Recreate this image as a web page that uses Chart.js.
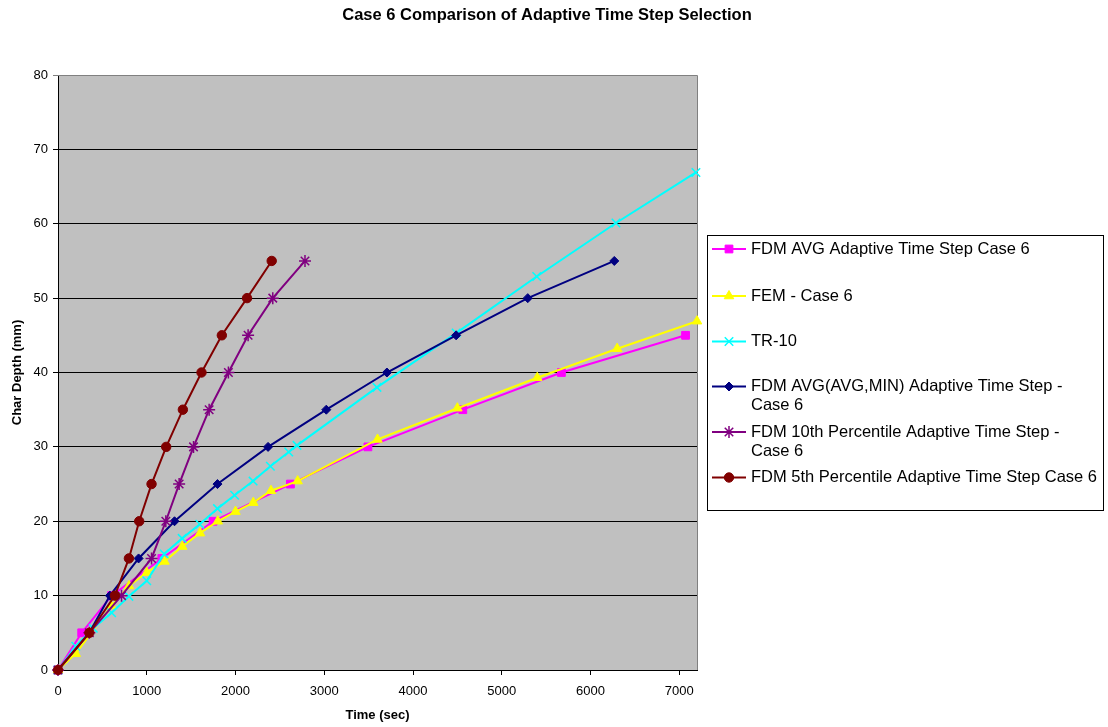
<!DOCTYPE html>
<html>
<head>
<meta charset="utf-8">
<title>Case 6 Comparison of Adaptive Time Step Selection</title>
<script src="https://cdn.jsdelivr.net/npm/chart.js@4.4.1/dist/chart.umd.min.js"></script>
<style>
  html, body { margin: 0; padding: 0; background: #fff; }
  #wrap { width: 1108px; height: 727px; }
</style>
</head>
<body>
<div id="wrap"><canvas id="chart" width="1108" height="727"></canvas></div>
<script>
// Char depth (mm) against time (sec) for each time step method
const fdmAvgTime = [0, 267, 604, 1170, 1748, 2619, 3492, 4561, 5672, 7071];
const fdmAvgDepth = [0, 5, 10, 15, 20, 25, 30, 35, 40, 45];

const femTime = [0, 200, 600, 800, 1000, 1200, 1400, 1600, 1800, 2000, 2200, 2400, 2700, 3600, 4500, 5400, 6300, 7200];
const femDepth = [0, 2.2, 8.6, 11.3, 13.1, 14.6, 16.6, 18.4, 20.0, 21.3, 22.5, 24.1, 25.4, 31.0, 35.2, 39.3, 43.2, 46.9];

const tr10Time = [0, 200, 397, 604, 799, 1000, 1197, 1399, 1598, 1797, 1990, 2198, 2393, 2600, 2693, 3594, 4486, 5394, 6287, 7188];
const tr10Depth = [0, 3.2, 5.6, 7.7, 9.9, 12.0, 15.6, 17.7, 19.6, 21.7, 23.5, 25.4, 27.4, 29.3, 30.2, 38.0, 45.3, 52.9, 60.1, 66.9];

const fdmAvgMinTime = [0, 353, 585, 908, 1313, 1797, 2367, 3023, 3706, 4486, 5293, 6268];
const fdmAvgMinDepth = [0, 5, 10, 15, 20, 25, 30, 35, 40, 45, 50, 55];

const fdm10thTime = [0, 353, 716, 1054, 1215, 1365, 1527, 1703, 1920, 2142, 2420, 2783];
const fdm10thDepth = [0, 5, 10, 15, 20, 25, 30, 35, 40, 45, 50, 55];

const fdm5thTime = [0, 353, 641, 799, 915, 1054, 1219, 1407, 1617, 1846, 2130, 2408];
const fdm5thDepth = [0, 5, 10, 15, 20, 25, 30, 35, 40, 45, 50, 55];

const seriesNames = [
  'FDM AVG Adaptive Time Step Case 6',
  'FEM - Case 6',
  'TR-10',
  'FDM AVG(AVG,MIN) Adaptive Time Step - Case 6',
  'FDM 10th Percentile Adaptive Time Step - Case 6',
  'FDM 5th Percentile Adaptive Time Step Case 6'
];
// how the legend breaks the long names
const legendLines = [
  ['FDM AVG Adaptive Time Step Case 6'],
  ['FEM - Case 6'],
  ['TR-10'],
  ['FDM AVG(AVG,MIN) Adaptive Time Step -', 'Case 6'],
  ['FDM 10th Percentile Adaptive Time Step -', 'Case 6'],
  ['FDM 5th Percentile Adaptive Time Step Case 6']
];

const chartTitle = 'Case 6 Comparison of Adaptive Time Step Selection';
const xTicks = [0, 1000, 2000, 3000, 4000, 5000, 6000, 7000];

const FONT = "'Liberation Sans', Arial, sans-serif";

function pts(t, d) {
  return t.map((v, i) => ({ x: v, y: d[i] }));
}

function series(i, t, d, color, style, radius) {
  return {
    label: seriesNames[i],
    data: pts(t, d),
    showLine: true,
    borderColor: color,
    backgroundColor: color,
    borderWidth: 2,
    pointStyle: style,
    pointRadius: radius,
    pointHoverRadius: radius,
    pointBorderColor: color,
    pointBackgroundColor: color,
    pointBorderWidth: (style === 'crossRot' || style === 'star') ? 1.5 : 1,
    clip: false,
    order: 10 - i // later series sit on top
  };
}

const datasets = [
  series(0, fdmAvgTime, fdmAvgDepth, '#ff00ff', 'rect', 5.5),
  series(1, femTime, femDepth, '#ffff00', 'triangle', 5.5),
  series(2, tr10Time, tr10Depth, '#00ffff', 'crossRot', 6),
  series(3, fdmAvgMinTime, fdmAvgMinDepth, '#000080', 'rectRot', 4.5),
  series(4, fdm10thTime, fdm10thDepth, '#800080', 'star', 6),
  series(5, fdm5thTime, fdm5thDepth, '#800000', 'circle', 4.7)
];

// grey plot background, grey top/right frame and the title
const plotFrame = {
  id: 'plotFrame',
  beforeDraw(chart) {
    const a = chart.chartArea, ctx = chart.ctx;
    ctx.save();
    ctx.fillStyle = '#c0c0c0';
    ctx.fillRect(a.left, a.top, a.right - a.left, a.bottom - a.top);
    ctx.fillStyle = '#000';
    ctx.font = 'bold 16.5px ' + FONT;
    ctx.textAlign = 'center';
    ctx.textBaseline = 'middle';
    ctx.fillText(chartTitle, 547, 15);
    ctx.restore();
  },
  beforeDatasetsDraw(chart) {
    const a = chart.chartArea, ctx = chart.ctx;
    ctx.save();
    ctx.strokeStyle = '#808080';
    ctx.lineWidth = 1;
    ctx.beginPath();
    ctx.moveTo(Math.round(a.left), Math.round(a.top) + 0.5);
    ctx.lineTo(Math.round(a.right) + 0.5, Math.round(a.top) + 0.5);
    ctx.lineTo(Math.round(a.right) + 0.5, Math.round(a.bottom));
    ctx.stroke();
    ctx.restore();
  }
};

// boxed legend on the right, long names on two lines
const sideLegend = {
  id: 'sideLegend',
  afterDraw(chart) {
    const ctx = chart.ctx;
    const rowY = [249, 296, 341.5, 386.5, 432, 477.5];
    ctx.save();
    ctx.strokeStyle = '#000';
    ctx.lineWidth = 1;
    ctx.strokeRect(707.5, 235.5, 396, 275);
    ctx.font = '16.5px ' + FONT;
    ctx.textBaseline = 'middle';
    ctx.textAlign = 'left';
    chart.data.datasets.forEach((ds, i) => {
      const y = rowY[i];
      ctx.strokeStyle = ds.borderColor;
      ctx.lineWidth = 2;
      ctx.beginPath();
      ctx.moveTo(712, y);
      ctx.lineTo(746, y);
      ctx.stroke();
      ctx.fillStyle = ds.pointBackgroundColor;
      ctx.strokeStyle = ds.pointBorderColor;
      ctx.lineWidth = ds.pointBorderWidth;
      Chart.helpers.drawPoint(ctx, {
        pointStyle: ds.pointStyle,
        radius: ds.pointRadius,
        rotation: 0,
        borderWidth: ds.pointBorderWidth
      }, 729, y);
      ctx.fillStyle = '#000';
      legendLines[i].forEach((line, k) => ctx.fillText(line, 751, y + k * 19));
    });
    ctx.restore();
  }
};

Chart.defaults.color = '#000';
Chart.defaults.font.family = FONT;

new Chart(document.getElementById('chart'), {
  type: 'scatter',
  data: { datasets },
  plugins: [plotFrame, sideLegend],
  options: {
    responsive: false,
    animation: false,
    devicePixelRatio: 1,
    layout: { padding: { top: 75, left: 0, right: 411, bottom: 0 } },
    plugins: {
      legend: { display: false },
      tooltip: { enabled: false },
      title: { display: false }
    },
    scales: {
      x: {
        type: 'linear',
        min: 0,
        max: 7200,
        afterBuildTicks: s => { s.ticks = xTicks.map(v => ({ value: v })); },
        afterFit: s => { s.height = 57; },
        ticks: { font: { size: 13 }, padding: 9, maxRotation: 0, callback: v => String(v) },
        grid: { drawOnChartArea: false, tickLength: 5, color: '#000' },
        border: { color: '#000', width: 1 },
        title: {
          display: true,
          text: 'Time (sec)',
          font: { size: 13, weight: 'bold' },
          padding: { top: 0, bottom: 4 }
        }
      },
      y: {
        min: 0,
        max: 80,
        afterFit: s => { s.width = 58; },
        ticks: { stepSize: 10, font: { size: 13 }, padding: 5, callback: v => String(v) },
        grid: {
          tickLength: 5,
          color: c => (c.tick && c.tick.value === 80) ? '#808080' : '#000'
        },
        border: { color: '#000', width: 1 },
        title: {
          display: true,
          text: 'Char Depth (mm)',
          font: { size: 13, weight: 'bold' },
          padding: { top: 10, bottom: 0 }
        }
      }
    }
  }
});
</script>
</body>
</html>
